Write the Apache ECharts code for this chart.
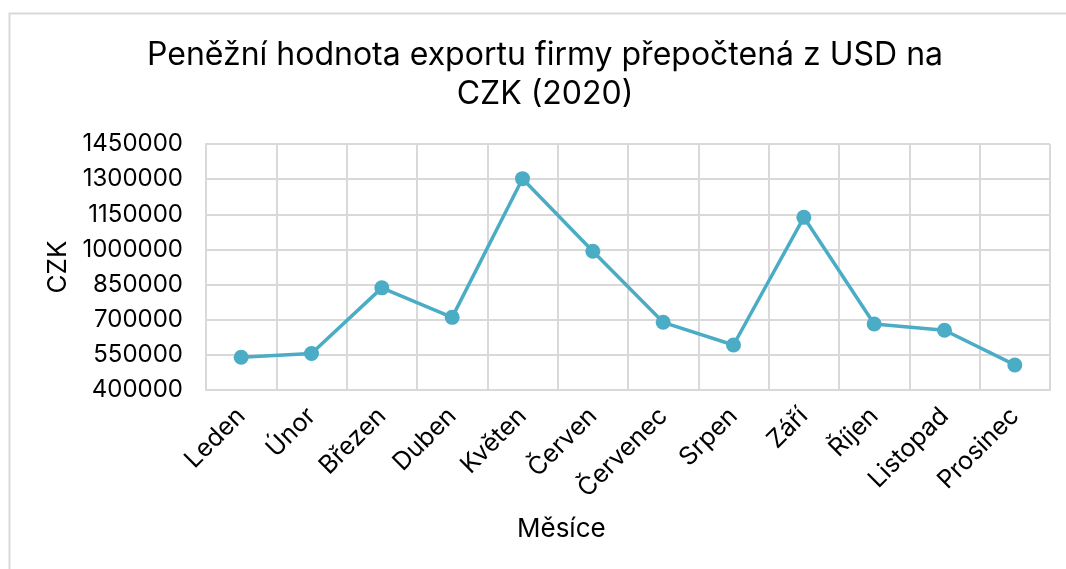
<!DOCTYPE html>
<html>
<head>
<meta charset="utf-8">
<script src="https://cdn.jsdelivr.net/npm/echarts@6/dist/echarts.min.js"></script>
<style>
  html, body { margin: 0; padding: 0; background: #fff; }
  #main { width: 1066px; height: 569px; }
</style>
</head>
<body>
<div id="main"></div>
<script>
// měsíce a hodnoty exportu (CZK)
const months = ['Leden', 'Únor', 'Březen', 'Duben', 'Květen', 'Červen',
    'Červenec', 'Srpen', 'Září', 'Říjen', 'Listopad', 'Prosinec'];
const exportCzk = [540000, 556000, 836000, 710000, 1302000, 992000,
    689000, 592000, 1137000, 682000, 655000, 507000];

const yMin = 400000;
const yMax = 1450000;
const yStep = 150000;

const fontFamily = 'Inter, "Noto Sans", sans-serif';

var chartDom = document.getElementById('main');
var myChart = echarts.init(chartDom);
var option;

option = {
    animation: false,
    textStyle: { fontFamily: fontFamily },
    title: {
        text: 'Peněžní hodnota exportu firmy přepočtená z USD na\nCZK (2020)',
        left: 540,
        top: 31,
        textAlign: 'center',
        textStyle: {
            fontFamily: fontFamily,
            fontSize: 32,
            fontWeight: 'normal',
            color: '#000',
            lineHeight: 39
        }
    },
    graphic: [
        {
            type: 'rect',
            shape: { x: 9.5, y: 13.5, width: 1080, height: 600 },
            style: { fill: 'none', stroke: '#d9d9d9', lineWidth: 2 },
            silent: true
        },
        {
            type: 'text',
            left: 517,
            top: 516,
            style: {
                text: 'Měsíce',
                font: '26px ' + fontFamily,
                fill: '#000'
            }
        }
    ],
    grid: {
        left: 206,
        right: 16,
        top: 144,
        bottom: 179
    },
    xAxis: {
        type: 'category',
        data: months,
        boundaryGap: true,
        axisLine: { show: true, lineStyle: { color: '#d9d9d9', width: 2 } },
        axisTick: { show: false },
        splitLine: { show: true, lineStyle: { color: '#d9d9d9', width: 2 } },
        axisLabel: {
            rotate: 45,
            margin: 22,
            interval: 0,
            fontSize: 25,
            color: '#000',
            fontFamily: fontFamily
        }
    },
    yAxis: {
        type: 'value',
        min: yMin,
        max: yMax,
        interval: yStep,
        name: 'CZK',
        nameLocation: 'middle',
        nameGap: 133,
        nameTextStyle: { fontSize: 26, color: '#000', fontFamily: fontFamily },
        axisLine: { show: true, lineStyle: { color: '#d9d9d9', width: 2 } },
        axisTick: { show: false },
        splitLine: { show: true, lineStyle: { color: '#d9d9d9', width: 2 } },
        axisLabel: {
            margin: 23,
            fontSize: 24,
            color: '#000',
            fontFamily: fontFamily,
            formatter: function (v) { return String(v); }
        }
    },
    series: [
        {
            name: 'Export',
            type: 'line',
            data: exportCzk,
            symbol: 'circle',
            symbolSize: 15,
            itemStyle: { color: '#4bacc6' },
            lineStyle: { color: '#4bacc6', width: 3.5 }
        }
    ]
};

myChart.setOption(option);
</script>
</body>
</html>
